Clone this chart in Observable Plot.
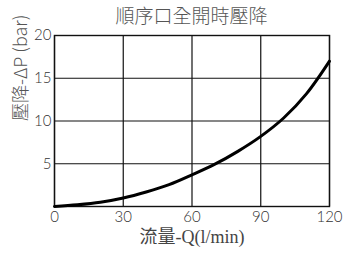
<!DOCTYPE html>
<html><head><meta charset="utf-8">
<script src="https://cdn.jsdelivr.net/npm/d3@7"></script>
<script src="https://cdn.jsdelivr.net/npm/@observablehq/plot@0.6"></script>
<style>
body{margin:0;background:#fff;}
#wrap{position:relative;width:350px;height:257px;}
#title{position:absolute;left:54px;width:275px;top:3px;text-align:center;font-family:"Noto Sans CJK TC","Noto Sans",sans-serif;font-weight:300;font-size:19px;line-height:24px;color:#555;}
</style>
</head><body>
<div id="wrap"><div id="title">順序口全開時壓降</div></div>
<script>
const flow = [0,10,20,30,40,50,60,70,80,90,100,110,120];
const pressure = [0,0.2,0.5,1.0,1.7,2.55,3.7,4.95,6.45,8.2,10.35,13.2,17.0];
const xTicks = [0,30,60,90,120];
const yTicks = [5,10,15,20];
const title = "順序口全開時壓降";
const xLabel = "流量-Q(l/min)";
const yLabel = "壓降-ΔP (bar)";

const data = flow.map((q,i)=>({q, p: pressure[i]}));

const chart = Plot.plot({
  width: 350, height: 257,
  marginLeft: 54, marginRight: 21, marginTop: 35, marginBottom: 51,
  style: {fontFamily: "Lato, 'Noto Sans', sans-serif", fontSize: "15px", color: "#333", background: "transparent"},
  x: {domain: [0,120], ticks: xTicks, tickSize: 0, tickPadding: 5, label: null},
  y: {domain: [0,20], ticks: yTicks, tickSize: 0, tickPadding: 3, label: null},
  marks: [
    Plot.ruleX(xTicks, {stroke: "#111", strokeWidth: 1.2}),
    Plot.ruleY(yTicks, {stroke: "#111", strokeWidth: 1.2}),
    Plot.frame({stroke: "#111", strokeWidth: 1.4}),
    Plot.line(data, {x: "q", y: "p", curve: "catmull-rom", stroke: "#000", strokeWidth: 3}),
    Plot.axisX({ticks: xTicks, tickSize: 0, tickPadding: 5, fontSize: 15, fill: "#333", fontWeight: 300}),
    Plot.axisY({ticks: yTicks, tickSize: 0, tickPadding: 3, fontSize: 15, fill: "#333", fontWeight: 300}),
    Plot.text([xLabel], {frameAnchor: "bottom", dy: 36, text: d=>d, fontSize: 18, fill: "#444", fontFamily: "'Liberation Serif', 'Noto Sans CJK TC', serif"}),
    Plot.text([yLabel], {frameAnchor: "left", dx: -33, rotate: -90, text: d=>d, fontSize: 18, fill: "#555", fontWeight: 300, fontFamily: "'Noto Sans CJK TC', 'Noto Sans', sans-serif"})
  ]
});
chart.style.position = "absolute";
chart.style.left = "0"; chart.style.top = "0";
document.getElementById("wrap").appendChild(chart);
</script>
</body></html>
